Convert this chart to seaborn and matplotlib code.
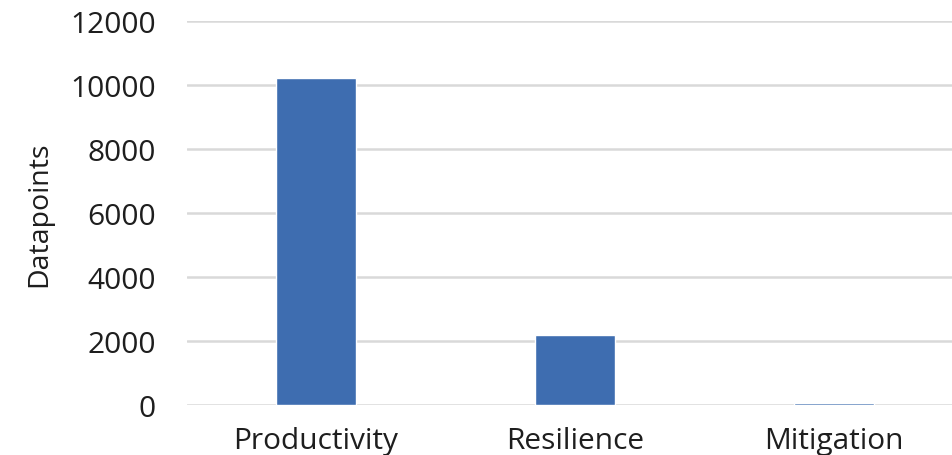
import matplotlib
matplotlib.use("Agg")
import matplotlib.pyplot as plt
import seaborn as sns
import pandas as pd

categories = ["Productivity", "Resilience", "Mitigation"]
datapoints = [10220, 2190, 70]
yticks = [0, 2000, 4000, 6000, 8000, 10000, 12000]

sns.set_theme(style="white")
plt.rcParams['font.family'] = ['Open Sans', 'DejaVu Sans']

df = pd.DataFrame({"category": categories, "Datapoints": datapoints})

fig = plt.figure(figsize=(9.52, 4.56), dpi=100)
ax = fig.add_axes([186.5 / 952, 50 / 456, 777 / 952, 384 / 456])
sns.barplot(data=df, x="category", y="Datapoints", color="#3E6DB0",
            width=0.31, saturation=1, ax=ax, zorder=3)
ax.set_ylim(0, 12000)
ax.set_xlim(-0.5, 2.5)
ax.set_yticks(yticks)
ax.set_yticklabels([str(t) for t in yticks], fontsize=21.5, color="#1e1e1e")
ax.tick_params(axis="x", labelsize=21.5, colors="#1e1e1e", pad=15, length=0)
ax.tick_params(axis="y", pad=22, length=0)
ax.grid(axis="y", color="#d9d9d9", linewidth=1.8, zorder=0)
for s in ax.spines.values():
    s.set_visible(False)
ax.set_xlabel("")
ax.set_ylabel("Datapoints", fontsize=20.5, color="#1e1e1e", labelpad=12)
fig.savefig("out.png", dpi=100)
